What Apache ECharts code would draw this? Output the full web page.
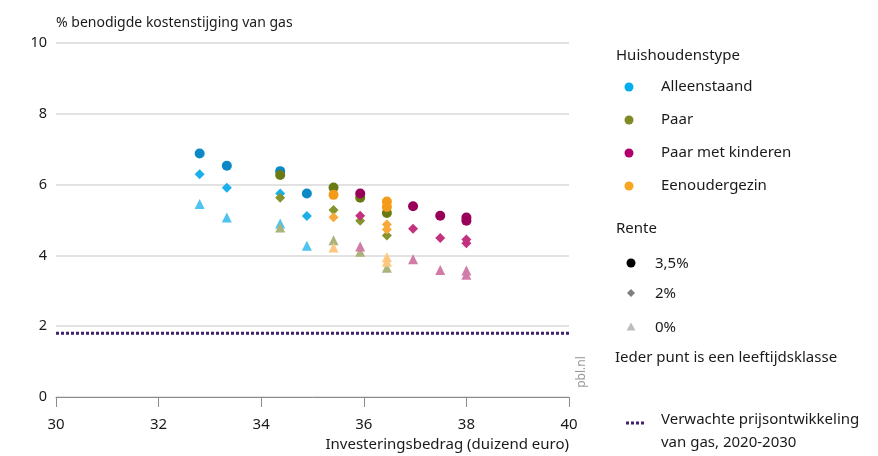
<!DOCTYPE html>
<html>
<head>
<meta charset="utf-8">
<script src="https://cdn.jsdelivr.net/npm/echarts@6/dist/echarts.min.js"></script>
<style>
html,body{margin:0;padding:0;background:#fff;}
#chart{width:878px;height:456px;}
</style>
</head>
<body>
<div id="chart"></div>
<script>
// ---- data (x = investeringsbedrag in duizend euro, y = % benodigde kostenstijging) ----
const xTicks = [30, 32, 34, 36, 38, 40];
const yTicks = [0, 2, 4, 6, 8, 10];

const alleenX   = [32.8, 33.33, 34.37, 34.89];
const alleen35  = [6.88, 6.53, 6.38, 5.75];
const alleen2   = [6.29, 5.91, 5.75, 5.11];
const alleen0   = [5.45, 5.07, 4.90, 4.27];

const paarX     = [34.37, 35.41, 35.93, 36.45];
const paar35    = [6.27, 5.92, 5.63, 5.20];
const paar2     = [5.63, 5.28, 4.98, 4.56];
const paar0     = [4.79, 4.43, 4.10, 3.65];

const kindX     = [35.93, 36.96, 37.49, 38.0, 38.0];
const kind35    = [5.75, 5.39, 5.12, 5.07, 4.98];
const kind2     = [5.12, 4.75, 4.49, 4.45, 4.34];
const kind0     = [4.25, 3.89, 3.59, 3.57, 3.45];

const eenX      = [35.41, 36.45, 36.45];
const een35     = [5.71, 5.52, 5.37];
const een2      = [5.08, 4.87, 4.73];
const een0      = [4.22, 3.95, 3.82];

const prijsX    = [30, 40];
const prijsY    = [1.8, 1.8];

const huishoudens = ['Alleenstaand', 'Paar', 'Paar met kinderen', 'Eenoudergezin'];
const renteLabels = ['3,5%', '2%', '0%'];

// ---- styling ----
const FONT = '"Noto Sans", "Open Sans", sans-serif';
const groups = [
  { name: 'Alleenstaand', x: alleenX, ys: [alleen0, alleen2, alleen35], colors: ['#4fc3ef', '#1ab0ec', '#0a89c6'] },
  { name: 'Paar', x: paarX, ys: [paar0, paar2, paar35], colors: ['#a9b37a', '#85942c', '#6a7a14'] },
  { name: 'Paar met kinderen', x: kindX, ys: [kind0, kind2, kind35], colors: ['#d17ca7', '#c2327f', '#99005a'] },
  { name: 'Eenoudergezin', x: eenX, ys: [een0, een2, een35], colors: ['#fcc77e', '#f8a93a', '#f39c1a'] }
];
const legendColors = ['#00aeef', '#7f8a26', '#b2006b', '#f9a51f'];
const symbols = ['triangle', 'diamond', 'circle'];
const sizes = [10, 10, 10];

const series = [];
groups.forEach(function (g) {
  g.ys.forEach(function (ys, k) {
    series.push({
      type: 'scatter',
      name: g.name + ' ' + ['0%', '2%', '3,5%'][k],
      data: g.x.map(function (x, i) { return [x, ys[i]]; }),
      symbol: symbols[k],
      symbolSize: sizes[k],
      itemStyle: { color: g.colors[k], opacity: 1 },
      z: 3,
      silent: true
    });
  });
});
series.unshift({
  type: 'line',
  name: 'Verwachte prijsontwikkeling van gas, 2020-2030',
  data: prijsX.map(function (x, i) { return [x, prijsY[i]]; }),
  symbol: 'none',
  lineStyle: { color: '#40226f', width: 3, type: [3, 2], cap: 'butt' },
  z: 2,
  silent: true
});

// ---- legend graphics ----
const g = [];
const txt = function (x, y, s, size, color) {
  return { type: 'text', left: x, top: y - 10, style: { text: s, font: (size || 15) + 'px ' + FONT, fill: color || '#1a1a1a', lineHeight: 20, verticalAlign: 'top' } };
};
g.push(txt(616, 56, 'Huishoudenstype'));
const hy = [87, 120, 153, 186];
huishoudens.forEach(function (h, i) {
  g.push({ type: 'circle', shape: { cx: 629, cy: hy[i], r: 4.5 }, style: { fill: legendColors[i] } });
  g.push(txt(661, hy[i], h));
});
g.push(txt(616, 229, 'Rente'));
const ry = [263, 293, 327];
g.push({ type: 'circle', shape: { cx: 631, cy: ry[0], r: 4.5 }, style: { fill: '#000' } });
g.push({ type: 'polygon', shape: { points: [[631, ry[1] - 4], [635, ry[1]], [631, ry[1] + 4], [627, ry[1]]] }, style: { fill: '#7f7f7f' } });
g.push({ type: 'polygon', shape: { points: [[631, ry[2] - 4.5], [635.5, ry[2] + 3.5], [626.5, ry[2] + 3.5]] }, style: { fill: '#bdbdbd' } });
renteLabels.forEach(function (r, i) { g.push(txt(655, ry[i] + 1, r)); });
g.push(txt(615, 358, 'Ieder punt is een leeftijdsklasse'));
g.push({ type: 'line', shape: { x1: 626, y1: 423, x2: 644, y2: 423 }, style: { stroke: '#40226f', lineWidth: 3, lineDash: [3, 2] } });
g.push(txt(661, 420, 'Verwachte prijsontwikkeling'));
g.push(txt(661, 443, 'van gas, 2020-2030'));
g.push({ type: 'text', x: 582, y: 372, rotation: Math.PI / 2,
  style: { text: 'pbl.nl', font: '12px ' + FONT, fill: '#9a9a9a', align: 'center', verticalAlign: 'middle' } });

const chart = echarts.init(document.getElementById('chart'), null, { renderer: 'canvas' });
chart.setOption({
  animation: false,
  backgroundColor: '#fff',
  textStyle: { fontFamily: FONT },
  grid: { left: 56, right: 309, top: 43, bottom: 59, containLabel: false },
  xAxis: {
    type: 'value', min: xTicks[0], max: xTicks[xTicks.length - 1], interval: 2,
    name: 'Investeringsbedrag (duizend euro)', nameLocation: 'end', nameGap: 0,
    nameTextStyle: { align: 'right', verticalAlign: 'top', padding: [40, 0, 0, 0], fontSize: 15, color: '#1a1a1a', fontFamily: FONT },
    axisLine: { show: true, lineStyle: { color: '#8c8c8c', width: 1 } },
    axisTick: { show: true, length: 10, lineStyle: { color: '#8c8c8c' } },
    axisLabel: { margin: 20, fontSize: 15, color: '#1a1a1a', fontFamily: FONT,
      formatter: function (v) { return xTicks.indexOf(v) >= 0 ? String(v) : ''; } },
    splitLine: { show: false }
  },
  yAxis: {
    type: 'value', min: yTicks[0], max: yTicks[yTicks.length - 1], interval: 2,
    name: '% benodigde kostenstijging van gas', nameLocation: 'end', nameGap: 13,
    nameTextStyle: { align: 'left', verticalAlign: 'bottom', fontSize: 14, color: '#1a1a1a', fontFamily: FONT },
    axisLine: { show: false }, axisTick: { show: false },
    axisLabel: { margin: 9, fontSize: 14.5, color: '#1a1a1a', fontFamily: FONT,
      formatter: function (v) { return yTicks.indexOf(v) >= 0 ? String(v) : ''; } },
    splitLine: { show: true, lineStyle: { color: '#d9d9d9', width: 1.5 } }
  },
  series: series,
  graphic: g
});
</script>
</body>
</html>
